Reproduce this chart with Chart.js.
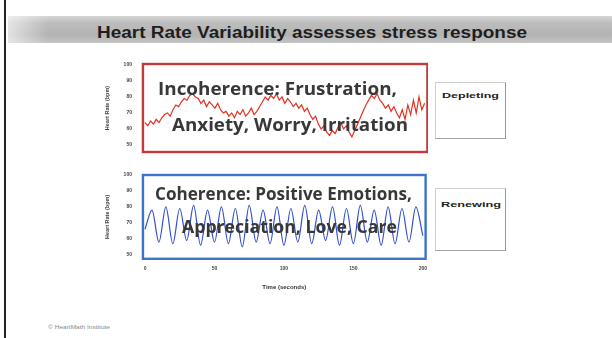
<!DOCTYPE html>
<html>
<head>
<meta charset="utf-8">
<script src="https://cdn.jsdelivr.net/npm/chart.js@4.4.1/dist/chart.umd.min.js"></script>
<style>
  html, body { margin: 0; padding: 0; background: #fff; }
  #slide { position: relative; width: 612px; height: 338px; overflow: hidden; background: #fff; font-family: "Liberation Sans", Arial, sans-serif; }
  .abs { position: absolute; }
  #edge { left: 4px; top: 0; width: 1.5px; height: 338px; background: #222; }
  #band { left: 8px; top: 16px; width: 604px; height: 27px;
          background: linear-gradient(to bottom, #d6d6d6 0%, #bdbdbd 25%, #b3b3b3 70%, #c4c4c4 100%); }
  #bandFade { left: 8px; top: 16px; width: 40px; height: 27px;
          background: linear-gradient(to right, rgba(255,255,255,0.6), rgba(255,255,255,0)); }
  .fit { white-space: nowrap; transform-origin: 0 50%; line-height: 1; }
  #title { font-weight: bold; font-size: 16px; color: #1e1e1e; }
  .overlay { font-family: "Open Sans", "Lato", sans-serif; font-weight: 700; font-size: 17px; color: #383838; }
  .side { border: 1px solid #cfcfcf; border-right: 1.5px solid #9a9a9a; border-bottom: 1.5px solid #a5a5a5; background: #fff; }
  .sideText { font-weight: bold; font-size: 8px; color: #222; }
  #source { font-size: 5px; color: #8a8a8a; }
  canvas { position: absolute; }
</style>
</head>
<body>
<div id="slide">
  <div id="edge" class="abs"></div>
  <div id="band" class="abs"></div>
  <div id="bandFade" class="abs"></div>
  <div id="title" class="abs fit" data-x="97" data-y="33" data-w="430">Heart Rate Variability assesses stress response</div>

  <div class="abs side" style="left:435px; top:82px; width:69px; height:55px;"></div>
  <div class="abs fit sideText" data-x="442" data-y="96" data-w="57">Depleting</div>
  <div class="abs side" style="left:435px; top:188px; width:69px; height:61px;"></div>
  <div class="abs fit sideText" data-x="441" data-y="205" data-w="60">Renewing</div>

  <canvas id="topChart"></canvas>
  <canvas id="bottomChart"></canvas>

  <div class="abs fit overlay" data-x="158" data-y="88" data-w="239">Incoherence: Frustration,</div>
  <div class="abs fit overlay" data-x="172" data-y="124" data-w="236">Anxiety, Worry, Irritation</div>
  <div class="abs fit overlay" data-x="155" data-y="193" data-w="257">Coherence: Positive Emotions,</div>
  <div class="abs fit overlay" data-x="182" data-y="226" data-w="215">Appreciation, Love, Care</div>

  <div id="source" class="abs fit" data-x="48" data-y="327" data-w="62">© HeartMath Institute</div>
</div>

<script>
// Heart rate samples (bpm)
const incoherentStep = 2;      // seconds between samples
const incoherentHR = [
  64, 62, 65, 63, 66, 64, 67, 69, 70, 68, 72, 75, 74, 77, 79, 78, 81, 82, 80, 79,
  76, 78, 74, 77, 75, 73, 76, 72, 70, 71, 68, 70, 67, 71, 69, 72, 68, 70, 73, 69,
  71, 74, 77, 80, 78, 81, 79, 82, 78, 80, 76, 79, 77, 74, 76, 73, 75, 71, 73, 69,
  66, 68, 63, 60, 62, 58, 56, 59, 57, 61, 64, 60, 62, 58, 55, 59, 63, 67, 71, 75,
  78, 81, 79, 82, 78, 76, 73, 75, 71, 74, 70, 67, 72, 66, 75, 69, 78, 70, 80, 72, 76
];
const coherentStep = 5;        // seconds between samples (alternate peaks / troughs)
const coherentHR = [
  66, 78, 58, 80, 57, 79, 59, 81, 56, 78, 58, 80, 57, 79, 55, 81, 58, 78, 57, 80,
  56, 79, 58, 81, 57, 78, 59, 80, 56, 79, 57, 81, 58, 78, 56, 80, 57, 79, 58, 80, 62
];
const hrTicks = [50, 60, 70, 80, 90, 100];
const timeTicks = [0, 50, 100, 150, 200];
const yTitle = 'Heart Rate (bpm)';
const xTitle = 'Time (seconds)';

// Position and horizontally fit text blocks
document.querySelectorAll('.fit').forEach(el => {
  const x = +el.dataset.x, y = +el.dataset.y, w = +el.dataset.w;
  el.style.left = x + 'px';
  const r = el.getBoundingClientRect();
  el.style.top = (y - r.height / 2) + 'px';
  el.style.transform = 'scaleX(' + (w / r.width) + ')';
});

const toPoints = (vals, step) => vals.map((v, i) => ({ x: i * step, y: v }));

const framePlugin = {
  id: 'frame',
  afterDatasetsDraw(chart, args, opts) {
    const a = chart.chartArea, c = chart.ctx;
    c.save();
    c.strokeStyle = opts.color;
    c.lineWidth = opts.width;
    c.strokeRect(a.left, a.top, a.right - a.left, a.bottom - a.top);
    c.restore();
  }
};

// Build a chart, then move/resize its canvas so the plot area lands on the given box
function makeChart(id, box, points, lineColor, frameColor, yMin, yMax, showX, smooth) {
  const cv = document.getElementById(id);
  const setSize = (l, t, w, h) => {
    cv.style.left = l + 'px'; cv.style.top = t + 'px';
    cv.style.width = w + 'px'; cv.style.height = h + 'px';
  };
  const w0 = box.r - box.l + 60, h0 = box.b - box.t + (showX ? 50 : 10);
  cv.width = w0; cv.height = h0;
  setSize(box.l - 45, box.t - 5, w0, h0);
  const chart = new Chart(cv, {
    type: 'line',
    data: { datasets: [{ data: points, borderColor: lineColor, borderWidth: 1.2,
                         pointRadius: 0, fill: false,
                         cubicInterpolationMode: smooth ? 'monotone' : 'default', tension: 0 }] },
    options: {
      responsive: false, maintainAspectRatio: false, animation: false,
      layout: { padding: 0 },
      plugins: { legend: { display: false }, tooltip: { enabled: false },
                 frame: { color: frameColor, width: 2.4 } },
      scales: {
        x: {
          type: 'linear', min: -1.5, max: 202, display: showX,
          grid: { display: false, drawTicks: false }, border: { display: false },
          afterBuildTicks: s => { s.ticks = timeTicks.map(v => ({ value: v })); },
          ticks: { font: { size: 5, weight: 'bold' }, color: '#444', padding: 7, maxRotation: 0 },
          title: { display: true, text: xTitle, font: { size: 6, weight: 'bold' }, color: '#333', padding: { top: 5, bottom: 0 } }
        },
        y: {
          min: yMin, max: yMax,
          grid: { display: false, drawTicks: false }, border: { display: false },
          afterBuildTicks: s => { s.ticks = hrTicks.map(v => ({ value: v })); },
          ticks: { font: { size: 5, weight: 'bold' }, color: '#444', padding: 11 },
          title: { display: true, text: yTitle, font: { size: 5.5, weight: 'bold' }, color: '#444', padding: { top: 0, bottom: 2 } }
        }
      }
    },
    plugins: [framePlugin]
  });
  const a = chart.chartArea;
  const dl = a.left, dt = a.top, dr = w0 - a.right, db = h0 - a.bottom;
  const w1 = Math.round(box.r - box.l + dl + dr), h1 = Math.round(box.b - box.t + dt + db);
  setSize(box.l - dl, box.t - dt, w1, h1);
  chart.resize(w1, h1);
  return chart;
}

makeChart('topChart', { l: 143, t: 64, r: 428, b: 152 }, toPoints(incoherentHR, incoherentStep),
          '#e2321f', '#c23a3a', 45.6, 100.6, false, false);
makeChart('bottomChart', { l: 143, t: 175, r: 426, b: 259 }, toPoints(coherentHR, coherentStep),
          '#2f4fd0', '#3d74c8', 47.5, 100, true, true);
</script>
</body>
</html>
